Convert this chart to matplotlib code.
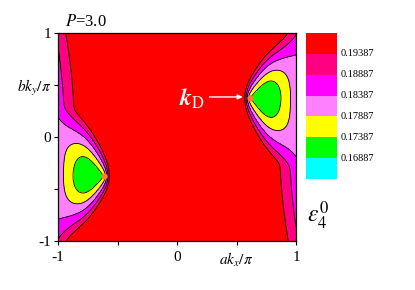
import numpy as np
import matplotlib.pyplot as plt

plt.rcParams['font.family'] = ['Liberation Serif', 'DejaVu Serif']
plt.rcParams['mathtext.fontset'] = 'stix'

# contour levels and fill colours (lowest band first)
levels = [0.16887, 0.17387, 0.17887, 0.18387, 0.18887, 0.19387]
colors = ['#00FFFF', '#00FF00', '#FFFF00', '#FF80FF', '#FF00FF', '#FF0080', '#FF0000']

# Dirac points
dirac_x = [0.613, -0.613]
dirac_y = [0.378, -0.378]

# tilted (type-II) cone around the Dirac point, estimated from the contours
E_D = 0.1739
v = 0.20
t = 0.25
s_up, s_lo = 0.55, 0.47
close_k, close_u, close_w = 0.115, 0.15, 0.04
fade_up, fade_lo = 0.60, 0.65
# valley along the zone edges kx = +-1
edge_E0, edge_Ey, edge_slope = 0.1855, 0.0045, 0.06

xticks = [-1, -0.5, 0, 0.5, 1]
xticklabels = ['-1', '', '0', r'$ak_x/\pi$', '1']
yticks = [-1, -0.5, 0, 0.5, 1]
yticklabels = ['-1', '', '0', r'$bk_y/\pi$', '1']


def pocket(u, w):
    s = np.where(w > 0, s_up, s_lo)
    fade = np.where(w > 0, fade_up, fade_lo)
    cone = v*np.sqrt(u**2 + (s*w)**2) - t*u
    sp = close_w*np.logaddexp(0, (u - close_u)/close_w)
    return E_D + cone + close_k*sp*np.exp(-(w/fade)**2)


kx = np.linspace(-1, 1, 700)
ky = np.linspace(-1, 1, 700)
X, Y = np.meshgrid(kx, ky)
xD, yD = dirac_x[0], dirac_y[0]
parts = [pocket(X - xD, Y - yD),
         pocket(-X - xD, -Y - yD),
         edge_E0 + edge_Ey*Y**2 + edge_slope*(1 - np.abs(X))]
k = 0.0007
E = E_D - k*np.log(sum(np.exp(-(p - E_D)/k) for p in parts))

fig = plt.figure(figsize=(4.15, 2.9), dpi=100)
ax = fig.add_axes([58/415, 1 - 241/290, 238/415, 208/290])
lev = [0.0] + levels + [1.0]
ax.contourf(X, Y, E, levels=lev, colors=colors)
ax.contour(X, Y, E, levels=levels, colors='black', linewidths=0.6)
ax.plot(dirac_x, dirac_y, 'o', color='#FF8030', ms=4.5, mec='none')
ax.set_xlim(-1, 1)
ax.set_ylim(-1, 1)
ax.set_xticks(xticks)
ax.set_xticklabels(xticklabels, fontsize=11)
ax.set_yticks(yticks)
ax.set_yticklabels(yticklabels, fontsize=11)
ax.tick_params(direction='out', length=3, width=0.8, pad=2)
ax.tick_params(axis='x', pad=4)
for sp in ax.spines.values():
    sp.set_linewidth(0.9)

ax.annotate('', xy=(0.575, 0.385), xytext=(0.25, 0.385),
            arrowprops=dict(arrowstyle='-|>', color='white', lw=1.0,
                            mutation_scale=7))
ax.text(0.235, 0.37, r'$\mathbfit{k}_{\mathrm{D}}$', color='white',
        fontsize=17, ha='right', va='center')
fig.text(65/415, 1 - 26/290, r'$P$=3.0', fontsize=12)

# colour key
cax = fig.add_axes([306/415, 1 - 179/290, 31/415, 146/290])
n = len(colors)
cax.bar([0]*n, [1]*n, bottom=list(range(n)), width=1, color=colors, align='edge')
cax.set_xlim(0, 1)
cax.set_ylim(0, n)
cax.axis('off')
for i, lv in enumerate(levels):
    cax.text(1.12, i + 1, f'{lv:.5f}', fontsize=7.5, va='center', ha='left')
fig.text(307/415, 1 - 216/290, r'$\varepsilon_4^0$', fontsize=17, va='center')

fig.savefig('out.png', dpi=100)
